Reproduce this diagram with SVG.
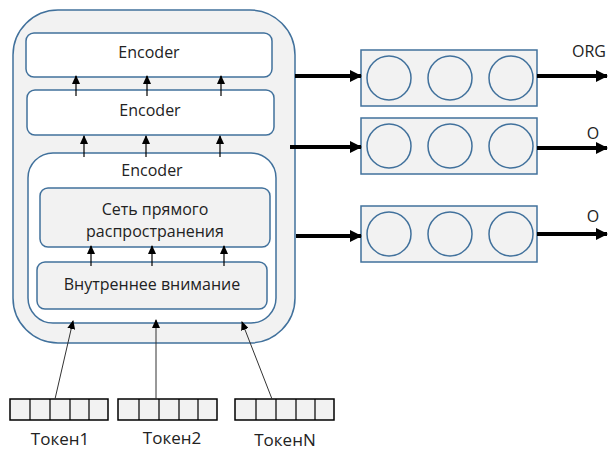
<svg xmlns="http://www.w3.org/2000/svg" width="609" height="452" viewBox="0 0 609 452">
<defs>
<marker id="ah" markerWidth="9" markerHeight="8" refX="8" refY="4" orient="auto" markerUnits="userSpaceOnUse"><path d="M0,0 L9,4 L0,8 Z" fill="#000"/></marker>
<marker id="ahb" markerWidth="12" markerHeight="12" refX="11" refY="6" orient="auto" markerUnits="userSpaceOnUse"><path d="M0,0 L12,6 L0,12 Z" fill="#000"/></marker>
<style>
.b{stroke:#41719C;stroke-width:1.5}
.g{fill:#F2F2F2}
.w{fill:#FFFFFF}
.t{font-family:"Open Sans","Noto Sans",sans-serif;font-size:16px;fill:#222;text-anchor:middle}
.tk{font-size:17px}
.a{stroke:#000;stroke-width:1.2;fill:none;marker-end:url(#ah)}
.thin{stroke:#333;stroke-width:1;fill:none;marker-end:url(#ah)}
.thick{stroke:#000;stroke-width:4;fill:none;marker-end:url(#ahb)}
.tok{fill:#F2F2F2;stroke:#000;stroke-width:1.5}
.cl{stroke:#000;stroke-width:1.2}
</style>
</defs>
<g id="container"><rect x="13" y="10" width="282" height="333" rx="45" class="b g"/></g>
<g id="enc1"><rect x="26" y="33" width="246" height="44" rx="8" class="b w"/><text x="149" y="58" class="t">Encoder</text></g>
<g id="enc2"><rect x="27" y="90" width="247" height="45" rx="8" class="b w"/><text x="150" y="116" class="t">Encoder</text></g>
<g id="enc3"><rect x="28" y="153" width="248" height="170" rx="25" class="b w"/><text x="152" y="176" class="t">Encoder</text></g>
<g id="ffn"><rect x="40" y="188" width="230" height="59" rx="8" class="b g"/><text x="155" y="215" class="t">Сеть прямого</text><text x="155" y="237" class="t">распространения</text></g>
<g id="attn"><rect x="37" y="262" width="230" height="47" rx="8" class="b g"/><text x="152" y="290" class="t">Внутреннее внимание</text></g>
<g id="out1"><rect x="361" y="50" width="176" height="56" class="b g"/><circle cx="389" cy="78" r="22" class="b" fill="none"/><circle cx="450" cy="78" r="22" class="b" fill="none"/><circle cx="511" cy="78" r="22" class="b" fill="none"/><text x="589" y="57" class="t">ORG</text></g>
<g id="out2"><rect x="361" y="118" width="176" height="56" class="b g"/><circle cx="389" cy="146" r="22" class="b" fill="none"/><circle cx="450" cy="146" r="22" class="b" fill="none"/><circle cx="511" cy="146" r="22" class="b" fill="none"/><text x="593" y="139" class="t">O</text></g>
<g id="out3"><rect x="361" y="206" width="176" height="56" class="b g"/><circle cx="389" cy="234" r="22" class="b" fill="none"/><circle cx="450" cy="234" r="22" class="b" fill="none"/><circle cx="511" cy="234" r="22" class="b" fill="none"/><text x="593" y="222" class="t">O</text></g>
<g id="token1"><rect x="10" y="399" width="98" height="21" class="tok"/><path d="M30,399V420M50,399V420M70,399V420M89,399V420" class="cl"/><text x="60" y="445" class="t tk">Токен1</text></g>
<g id="token2"><rect x="118" y="399" width="99" height="21" class="tok"/><path d="M139,399V420M159,399V420M179,399V420M198,399V420" class="cl"/><text x="172" y="444" class="t tk">Токен2</text></g>
<g id="tokenN"><rect x="235" y="399" width="99" height="21" class="tok"/><path d="M256,399V420M276,399V420M296,399V420M315,399V420" class="cl"/><text x="285" y="446" class="t tk">ТокенN</text></g>
<g id="connectors">
<path d="M76,96V76" class="a"/><path d="M147,96V76" class="a"/><path d="M221,96V76" class="a"/>
<path d="M84,157V136" class="a"/><path d="M146,157V136" class="a"/><path d="M220,157V136" class="a"/>
<path d="M91,266V246" class="a"/><path d="M152,266V246" class="a"/><path d="M224,266V246" class="a"/>
<path d="M55,399L73,321" class="thin"/>
<path d="M156,399V320" class="thin"/>
<path d="M272,399L242,322" class="thin"/>
<path d="M295,76H361" class="thick"/>
<path d="M290,147H361" class="thick"/>
<path d="M296,236H361" class="thick"/>
<path d="M537,76H607" class="thick"/>
<path d="M537,148H607" class="thick"/>
<path d="M537,234H607" class="thick"/>
</g>
</svg>
